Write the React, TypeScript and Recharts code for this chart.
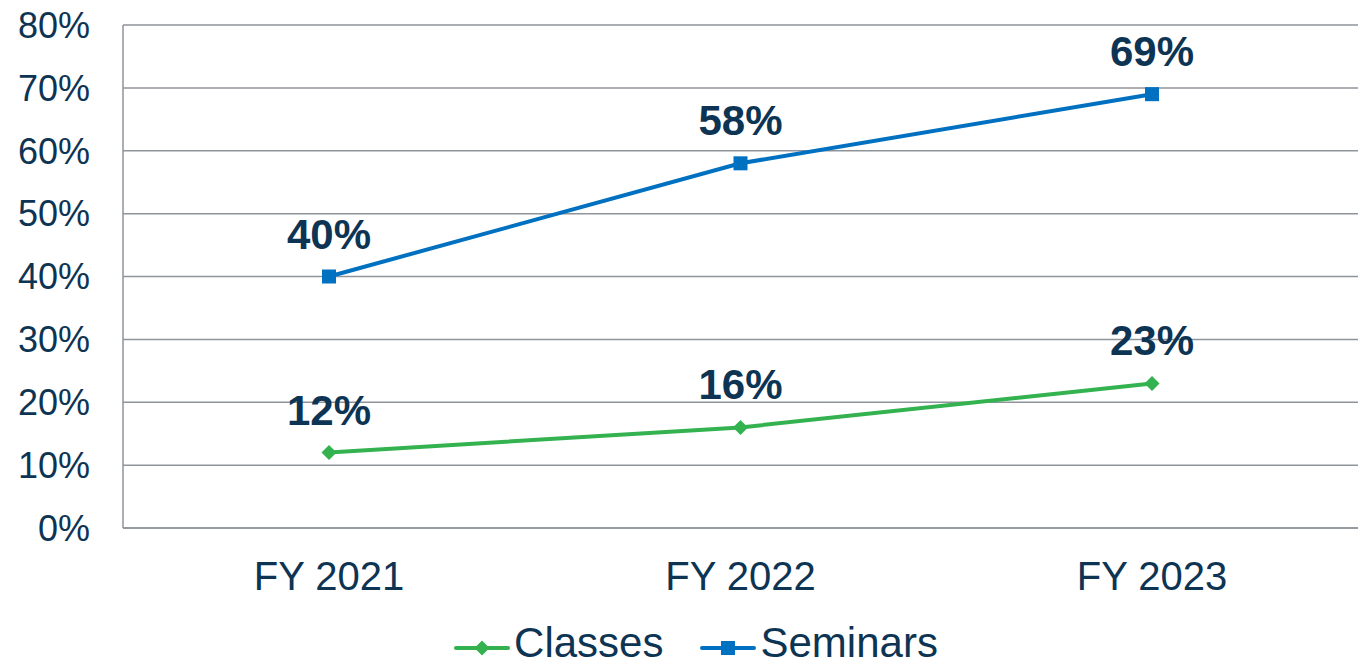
import React from "react"
import { CartesianGrid, LabelList, Legend, Line, LineChart, XAxis, YAxis } from "recharts"

const years = ["FY 2021", "FY 2022", "FY 2023"]
const classes = [12, 16, 23]
const seminars = [40, 58, 69]
const yTicks = [0, 10, 20, 30, 40, 50, 60, 70, 80]

const data = years.map((name, i) => ({ name, classes: classes[i], seminars: seminars[i] }))

const textColor = "#0e3454"
const gridColor = "#8f949a"
const green = "#33b24f"
const blue = "#0070c0"

const SquareDot = (props: any) => {
  const { cx, cy } = props
  if (cx == null || cy == null) return null
  return <rect x={cx - 7} y={cy - 7} width={14} height={14} fill={blue} />
}

const DiamondDot = (props: any) => {
  const { cx, cy } = props
  if (cx == null || cy == null) return null
  return <polygon points={`${cx},${cy - 7.5} ${cx + 7.5},${cy} ${cx},${cy + 7.5} ${cx - 7.5},${cy}`} fill={green} />
}

function LegendContent() {
  const item = (label: string, color: string, square: boolean, ml: number) => (
    <div style={{ display: "flex", alignItems: "flex-start", marginLeft: ml }}>
      <svg width={56} height={36}>
        <line x1={2} y1={23} x2={54} y2={23} stroke={color} strokeWidth={4} strokeLinecap="round" />
        {square ? (
          <rect x={21} y={16} width={14} height={14} fill={color} />
        ) : (
          <polygon points="28,15.5 35.5,23 28,30.5 20.5,23" fill={color} />
        )}
      </svg>
      <span style={{ marginLeft: 4, fontSize: 42, lineHeight: "36px", color: textColor }}>{label}</span>
    </div>
  )
  return (
    <div style={{ display: "flex", justifyContent: "center", paddingLeft: 22, paddingTop: 27 }}>
      {item("Classes", green, false, 0)}
      {item("Seminars", blue, true, 37)}
    </div>
  )
}

export default function App() {
  return (
    <div style={{ position: "absolute", left: 0, top: 0, fontFamily: "'Liberation Sans', Arial, sans-serif", background: "#fff" }}>
      <LineChart width={1370} height={667} data={data} margin={{ top: 25, right: 12, left: 0, bottom: 0 }}>
        <CartesianGrid vertical={false} stroke={gridColor} strokeWidth={1.5} />
        <XAxis
          dataKey="name"
          height={70}
          padding={{ left: 206, right: 206 }}
          tickSize={0}
          tickMargin={34}
          axisLine={{ stroke: gridColor, strokeWidth: 1.5 }}
          tick={{ fill: textColor, fontSize: 40 }}
        />
        <YAxis
          width={123}
          domain={[0, 80]}
          ticks={yTicks}
          tickSize={0}
          tickMargin={33}
          axisLine={{ stroke: gridColor, strokeWidth: 1.5 }}
          tick={{ fill: textColor, fontSize: 36 }}
          tickFormatter={(v) => `${v}%`}
        />
        <Legend verticalAlign="bottom" content={<LegendContent />} wrapperStyle={{ left: 0, width: 1370, height: 69 }} />
        <Line
          dataKey="classes"
          name="Classes"
          type="linear"
          stroke={green}
          strokeWidth={4}
          dot={<DiamondDot />}
          activeDot={false}
          isAnimationActive={false}
        >
          <LabelList dataKey="classes" position="top" offset={28} formatter={(v: any) => `${v}%`} fill={textColor} fontSize={42} fontWeight="bold" />
        </Line>
        <Line
          dataKey="seminars"
          name="Seminars"
          type="linear"
          stroke={blue}
          strokeWidth={4}
          dot={<SquareDot />}
          activeDot={false}
          isAnimationActive={false}
        >
          <LabelList dataKey="seminars" position="top" offset={28} formatter={(v: any) => `${v}%`} fill={textColor} fontSize={42} fontWeight="bold" />
        </Line>
      </LineChart>
    </div>
  )
}
